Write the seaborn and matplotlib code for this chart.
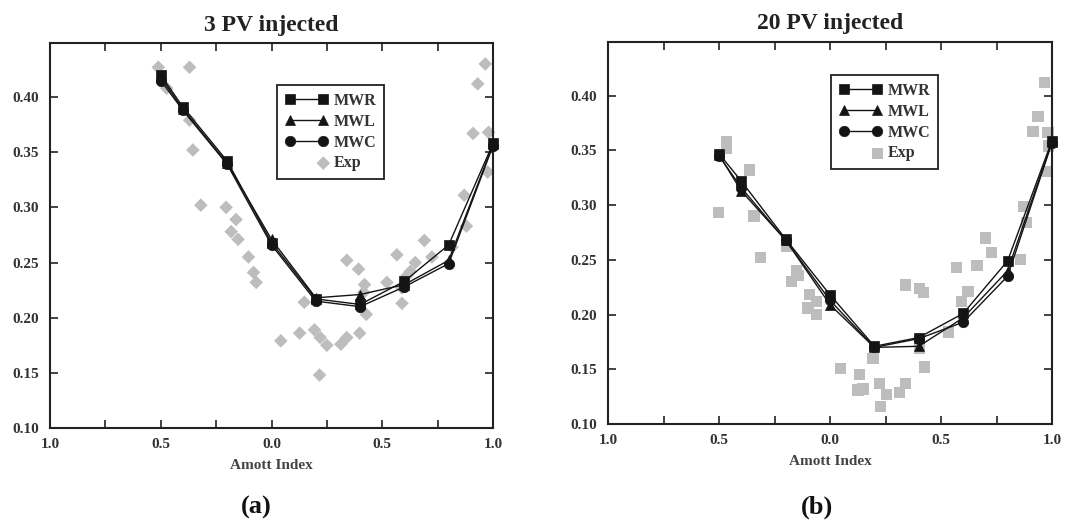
import numpy as np
import matplotlib
matplotlib.use("Agg")
import matplotlib.pyplot as plt
import seaborn as sns
from matplotlib.legend_handler import HandlerPathCollection

# ---------------- data ----------------
amott_model = [-0.5, -0.4, -0.2, 0.0, 0.2, 0.4, 0.6, 0.8, 1.0]

# panel (a): 3 PV injected
a_mwr = [0.420, 0.391, 0.342, 0.268, 0.217, 0.212, 0.233, 0.266, 0.358]
a_mwl = [0.418, 0.389, 0.340, 0.271, 0.218, 0.221, 0.230, 0.252, 0.357]
a_mwc = [0.415, 0.388, 0.339, 0.266, 0.215, 0.210, 0.228, 0.249, 0.356]
a_exp_x = [-0.511, -0.473, -0.370, -0.370, -0.355, -0.319, -0.205, -0.160, -0.182,
           -0.151, -0.104, -0.081, -0.069, 0.042, 0.127, 0.148, 0.194, 0.220,
           0.250, 0.217, 0.313, 0.340, 0.340, 0.393, 0.398, 0.420, 0.428, 0.521,
           0.566, 0.589, 0.611, 0.649, 0.690, 0.724, 0.815, 0.880, 0.870, 0.910,
           0.931, 0.965, 0.980, 0.976, 0.589, 0.416, 0.627]
a_exp_y = [0.427, 0.408, 0.427, 0.379, 0.352, 0.302, 0.300, 0.289, 0.278,
           0.271, 0.255, 0.241, 0.232, 0.179, 0.186, 0.214, 0.189, 0.182,
           0.175, 0.148, 0.176, 0.182, 0.252, 0.244, 0.186, 0.230, 0.203, 0.232,
           0.257, 0.213, 0.238, 0.250, 0.270, 0.255, 0.264, 0.283, 0.311, 0.367,
           0.412, 0.430, 0.368, 0.332, 0.227, 0.223, 0.242]

# panel (b): 20 PV injected
b_mwr = [0.347, 0.322, 0.269, 0.218, 0.171, 0.179, 0.201, 0.249, 0.359]
b_mwl = [0.346, 0.313, 0.268, 0.209, 0.170, 0.171, 0.197, 0.240, 0.358]
b_mwc = [0.345, 0.316, 0.268, 0.213, 0.170, 0.178, 0.193, 0.235, 0.357]
b_exp_x = [-0.502, -0.467, -0.467, -0.362, -0.342, -0.312, -0.197, -0.174, -0.152,
           -0.141, -0.092, -0.099, -0.062, -0.062, 0.048, 0.134, 0.126, 0.149,
           0.194, 0.224, 0.228, 0.254, 0.314, 0.339, 0.341, 0.404, 0.404, 0.422,
           0.426, 0.532, 0.569, 0.592, 0.622, 0.662, 0.700, 0.727, 0.859, 0.874,
           0.884, 0.914, 0.937, 0.967, 0.982, 0.979, 0.986]
b_exp_y = [0.293, 0.358, 0.352, 0.332, 0.290, 0.252, 0.262, 0.230, 0.240,
           0.236, 0.218, 0.206, 0.212, 0.200, 0.151, 0.145, 0.131, 0.132,
           0.160, 0.137, 0.116, 0.127, 0.129, 0.137, 0.227, 0.169, 0.224, 0.220,
           0.152, 0.184, 0.243, 0.212, 0.221, 0.245, 0.270, 0.257, 0.250, 0.299,
           0.284, 0.367, 0.381, 0.412, 0.366, 0.331, 0.354]

titles = ["3 PV injected", "20 PV injected"]
panel_labels = ["(a)", "(b)"]
series_names = ["MWR", "MWL", "MWC", "Exp"]
x_tick_vals = [-1.0, -0.5, 0.0, 0.5, 1.0]
x_tick_labels = ["1.0", "0.5", "0.0", "0.5", "1.0"]
y_tick_vals = [0.10, 0.15, 0.20, 0.25, 0.30, 0.35, 0.40]
y_tick_labels = ["0.10", "0.15", "0.20", "0.25", "0.30", "0.35", "0.40"]
x_label = "Amott Index"

# ---------------- style ----------------
sns.set_theme(style="ticks")
plt.rcParams["font.family"] = ["Liberation Serif", "DejaVu Serif"]
plt.rcParams["font.weight"] = "bold"
plt.rcParams["axes.labelweight"] = "bold"
plt.rcParams["axes.titleweight"] = "bold"

fig = plt.figure(figsize=(10.89, 5.21), dpi=100)
ax_a = fig.add_axes([50 / 1089, 1 - 428 / 521, 443 / 1089, 385 / 521])
ax_b = fig.add_axes([608 / 1089, 1 - 424 / 521, 444 / 1089, 382 / 521])


class RightMarkerHandler(HandlerPathCollection):
    def get_xdata(self, legend, xdescent, ydescent, width, height, fontsize):
        pad = self._marker_pad * fontsize
        xdata = [-xdescent, -xdescent + width]
        return xdata, [-xdescent + width - pad]


exp_gray = "#bdbdbd"
ink = "#141414"


def draw(ax, mwr, mwl, mwc, ex, ey, exp_marker, exp_size, title, leg_xy):
    sns.scatterplot(x=ex, y=ey, ax=ax, marker=exp_marker, s=exp_size,
                    color=exp_gray, edgecolor="none", linewidth=0,
                    zorder=1, label="Exp", legend=False, clip_on=False)
    exp_handle = ax.collections[-1]
    handles = []
    for vals, mk, name in [(mwr, "s", "MWR"), (mwl, "^", "MWL"), (mwc, "o", "MWC")]:
        sns.lineplot(x=amott_model, y=vals, ax=ax, color=ink, marker=mk,
                     markersize=7.5, markeredgecolor=ink, markerfacecolor=ink,
                     markeredgewidth=0.5, lw=1.0, zorder=3, legend=False,
                     clip_on=False)
        handles.append(ax.lines[-1])
    handles.append(exp_handle)

    ax.set_xlim(-1.0, 1.0)
    ax.set_ylim(0.10, 0.449)
    ax.set_xticks(x_tick_vals)
    ax.set_xticklabels(x_tick_labels)
    ax.set_xticks(np.arange(-1.0, 1.01, 0.25), minor=True)
    ax.set_yticks(y_tick_vals)
    ax.set_yticklabels(y_tick_labels)
    ax.tick_params(axis="both", which="both", direction="in", top=True,
                   right=True, length=6, width=1.2, colors="#222222",
                   labelsize=11)
    ax.tick_params(axis="x", which="major", pad=7)
    ax.tick_params(axis="y", which="major", pad=8)
    for lab in ax.get_xticklabels() + ax.get_yticklabels():
        lab.set_fontweight("bold")
        lab.set_color("#333333")
    for sp in ax.spines.values():
        sp.set_linewidth(1.5)
        sp.set_color("#222222")
    ax.set_xlabel(x_label, fontsize=11, fontweight="bold", color="#444444",
                  labelpad=6)
    ax.set_ylabel("")
    ax.set_title(title, fontsize=17, fontweight="bold", color="#222222", pad=9)

    leg = ax.legend(handles=handles, labels=series_names, loc="upper left",
                    bbox_to_anchor=leg_xy, borderaxespad=0, numpoints=2,
                    scatterpoints=1, handlelength=2.7, handletextpad=0.35,
                    labelspacing=0.3, borderpad=0.5, fancybox=False,
                    framealpha=1, edgecolor="#222222",
                    prop={"weight": "bold", "size": 11.5},
                    handler_map={exp_handle: RightMarkerHandler()})
    leg.get_frame().set_linewidth(1.3)
    leg.set_zorder(5)
    for t in leg.get_texts():
        t.set_color("#333333")


draw(ax_a, a_mwr, a_mwl, a_mwc, a_exp_x, a_exp_y, "D", 48, titles[0],
     ((277 - 50) / 443, (428 - 85) / 385))
draw(ax_b, b_mwr, b_mwl, b_mwc, b_exp_x, b_exp_y, "s", 65, titles[1],
     ((831 - 608) / 444, (424 - 75) / 382))

fig.text(256 / 1089, 1 - 507 / 521, panel_labels[0], ha="center", va="center",
         fontsize=19, fontweight="bold", color="#111111")
fig.text(817 / 1089, 1 - 507 / 521, panel_labels[1], ha="center", va="center",
         fontsize=19, fontweight="bold", color="#111111")

fig.savefig("out.png", dpi=100, facecolor="white")
